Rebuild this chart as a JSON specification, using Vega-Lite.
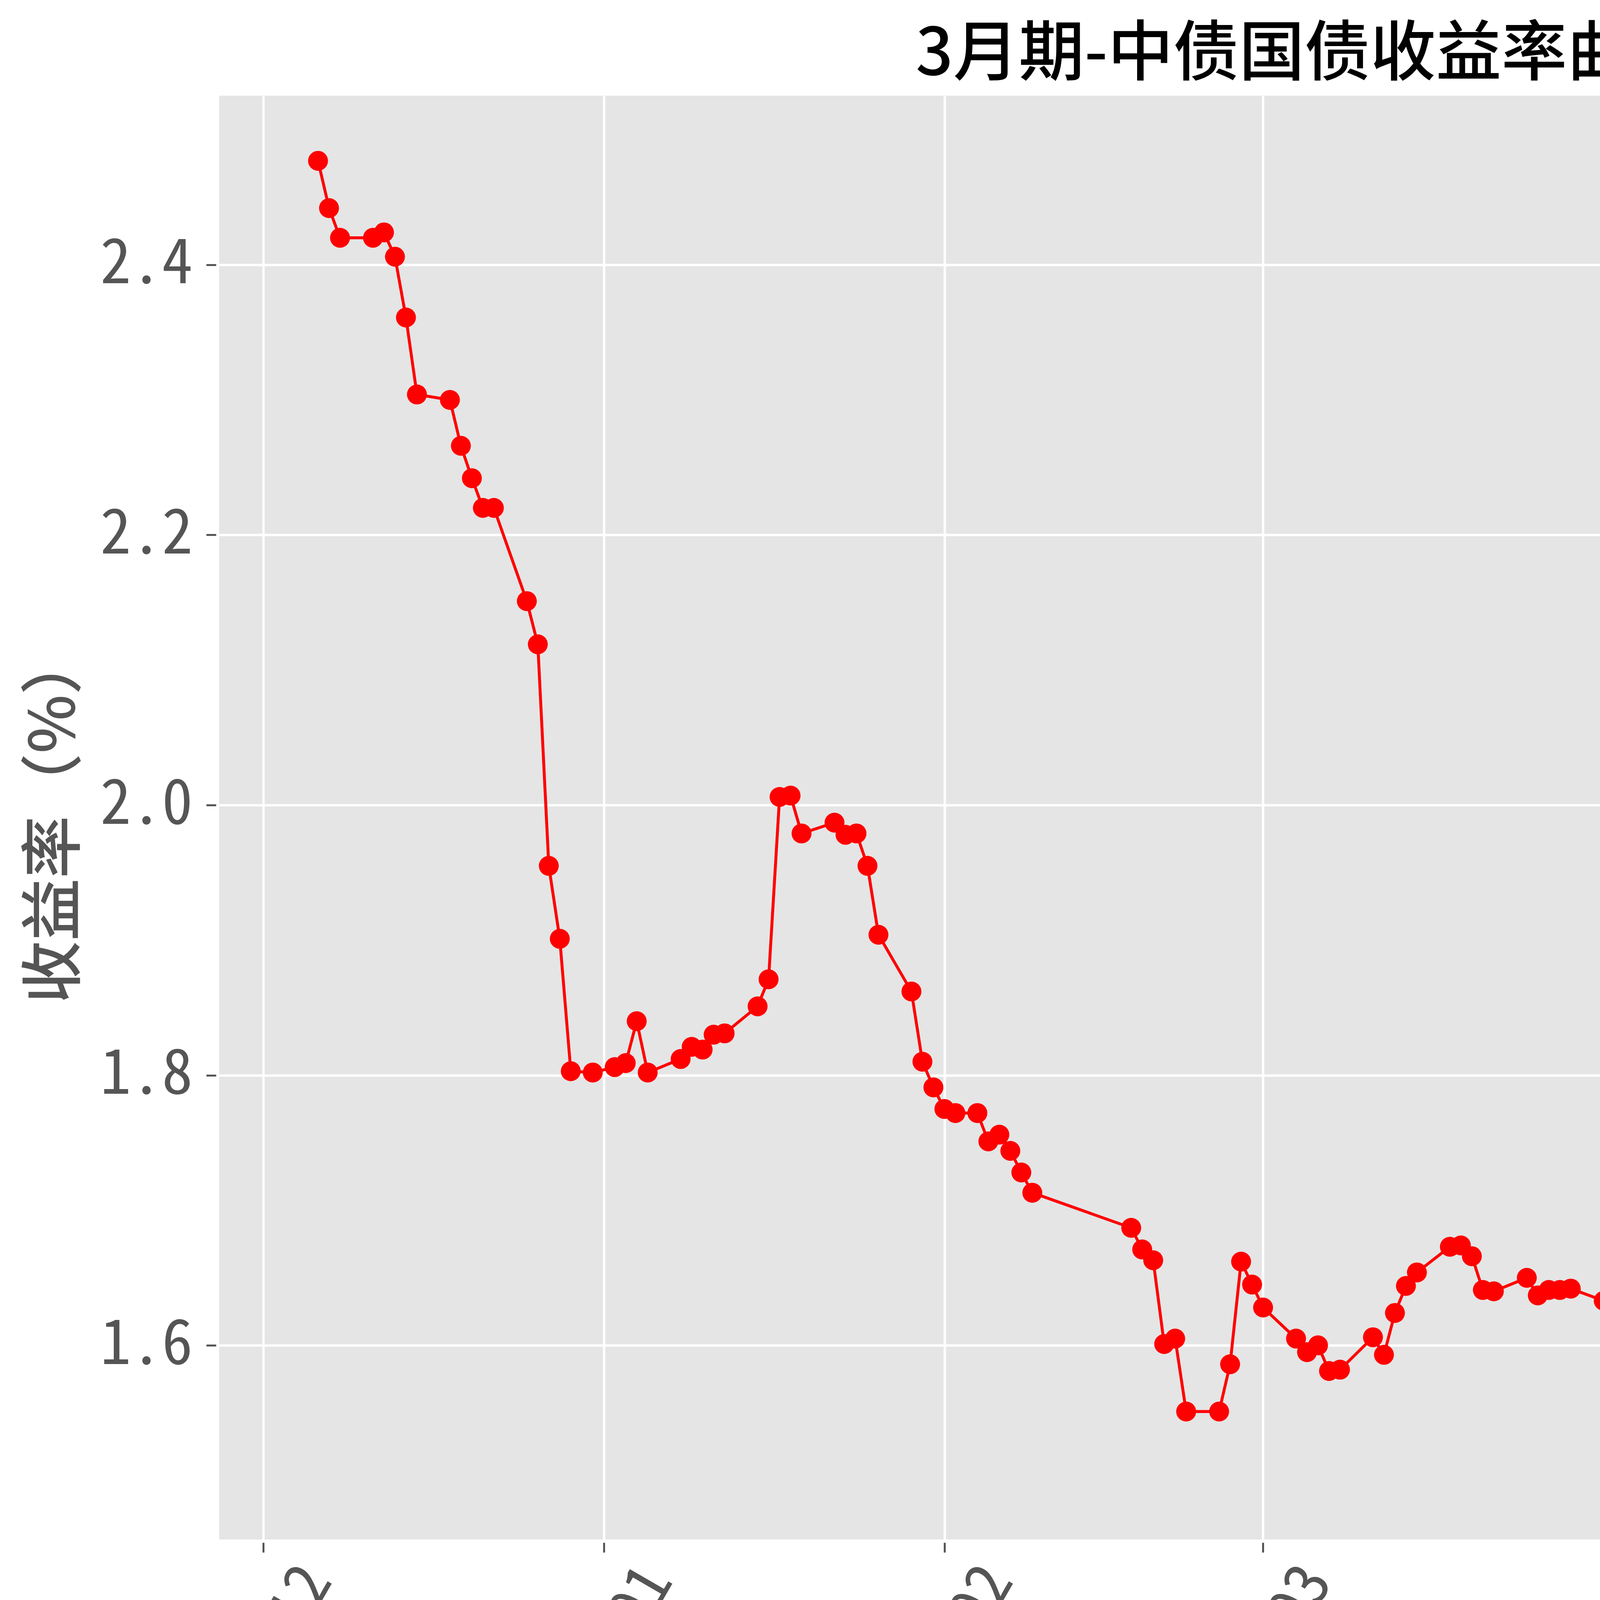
{
  "$schema": "https://vega.github.io/schema/vega-lite/v6.json",
  "width": 5570,
  "height": 3696,
  "autosize": {"type": "none"},
  "padding": {"left": 561, "top": 245, "right": 63, "bottom": 632},
  "background": "white",
  "title": {
    "text": "3月期-中债国债收益率曲线",
    "font": "Noto Sans CJK SC",
    "fontSize": 168,
    "fontWeight": 500,
    "color": "black",
    "anchor": "middle",
    "offset": 18,
    "limit": 0
  },
  "config": {
    "view": {"fill": "#E5E5E5", "stroke": null}
  },
  "data": {
    "values": [
      {"date": "2023-12-06", "yield": 2.477},
      {"date": "2023-12-07", "yield": 2.442},
      {"date": "2023-12-08", "yield": 2.420},
      {"date": "2023-12-11", "yield": 2.420},
      {"date": "2023-12-12", "yield": 2.424},
      {"date": "2023-12-13", "yield": 2.406},
      {"date": "2023-12-14", "yield": 2.361},
      {"date": "2023-12-15", "yield": 2.304},
      {"date": "2023-12-18", "yield": 2.300},
      {"date": "2023-12-19", "yield": 2.266},
      {"date": "2023-12-20", "yield": 2.242},
      {"date": "2023-12-21", "yield": 2.220},
      {"date": "2023-12-22", "yield": 2.220},
      {"date": "2023-12-25", "yield": 2.151},
      {"date": "2023-12-26", "yield": 2.119},
      {"date": "2023-12-27", "yield": 1.955},
      {"date": "2023-12-28", "yield": 1.901},
      {"date": "2023-12-29", "yield": 1.803},
      {"date": "2023-12-31", "yield": 1.802},
      {"date": "2024-01-02", "yield": 1.806},
      {"date": "2024-01-03", "yield": 1.809},
      {"date": "2024-01-04", "yield": 1.840},
      {"date": "2024-01-05", "yield": 1.802},
      {"date": "2024-01-08", "yield": 1.812},
      {"date": "2024-01-09", "yield": 1.821},
      {"date": "2024-01-10", "yield": 1.819},
      {"date": "2024-01-11", "yield": 1.830},
      {"date": "2024-01-12", "yield": 1.831},
      {"date": "2024-01-15", "yield": 1.851},
      {"date": "2024-01-16", "yield": 1.871},
      {"date": "2024-01-17", "yield": 2.006},
      {"date": "2024-01-18", "yield": 2.007},
      {"date": "2024-01-19", "yield": 1.979},
      {"date": "2024-01-22", "yield": 1.987},
      {"date": "2024-01-23", "yield": 1.978},
      {"date": "2024-01-24", "yield": 1.979},
      {"date": "2024-01-25", "yield": 1.955},
      {"date": "2024-01-26", "yield": 1.904},
      {"date": "2024-01-29", "yield": 1.862},
      {"date": "2024-01-30", "yield": 1.810},
      {"date": "2024-01-31", "yield": 1.791},
      {"date": "2024-02-01", "yield": 1.775},
      {"date": "2024-02-02", "yield": 1.772},
      {"date": "2024-02-04", "yield": 1.772},
      {"date": "2024-02-05", "yield": 1.751},
      {"date": "2024-02-06", "yield": 1.756},
      {"date": "2024-02-07", "yield": 1.744},
      {"date": "2024-02-08", "yield": 1.728},
      {"date": "2024-02-09", "yield": 1.713},
      {"date": "2024-02-18", "yield": 1.687},
      {"date": "2024-02-19", "yield": 1.671},
      {"date": "2024-02-20", "yield": 1.663},
      {"date": "2024-02-21", "yield": 1.601},
      {"date": "2024-02-22", "yield": 1.605},
      {"date": "2024-02-23", "yield": 1.551},
      {"date": "2024-02-26", "yield": 1.551},
      {"date": "2024-02-27", "yield": 1.586},
      {"date": "2024-02-28", "yield": 1.662},
      {"date": "2024-02-29", "yield": 1.645},
      {"date": "2024-03-01", "yield": 1.628},
      {"date": "2024-03-04", "yield": 1.605},
      {"date": "2024-03-05", "yield": 1.595},
      {"date": "2024-03-06", "yield": 1.600},
      {"date": "2024-03-07", "yield": 1.581},
      {"date": "2024-03-08", "yield": 1.582},
      {"date": "2024-03-11", "yield": 1.606},
      {"date": "2024-03-12", "yield": 1.593},
      {"date": "2024-03-13", "yield": 1.624},
      {"date": "2024-03-14", "yield": 1.644},
      {"date": "2024-03-15", "yield": 1.654},
      {"date": "2024-03-18", "yield": 1.673},
      {"date": "2024-03-19", "yield": 1.674},
      {"date": "2024-03-20", "yield": 1.666},
      {"date": "2024-03-21", "yield": 1.641},
      {"date": "2024-03-22", "yield": 1.640},
      {"date": "2024-03-25", "yield": 1.650},
      {"date": "2024-03-26", "yield": 1.637},
      {"date": "2024-03-27", "yield": 1.641},
      {"date": "2024-03-28", "yield": 1.641},
      {"date": "2024-03-29", "yield": 1.642},
      {"date": "2024-04-01", "yield": 1.633},
      {"date": "2024-04-02", "yield": 1.620},
      {"date": "2024-04-03", "yield": 1.612},
      {"date": "2024-04-07", "yield": 1.610},
      {"date": "2024-04-08", "yield": 1.589},
      {"date": "2024-04-09", "yield": 1.579},
      {"date": "2024-04-10", "yield": 1.560},
      {"date": "2024-04-11", "yield": 1.550},
      {"date": "2024-04-12", "yield": 1.550},
      {"date": "2024-04-15", "yield": 1.541},
      {"date": "2024-04-16", "yield": 1.541},
      {"date": "2024-04-17", "yield": 1.546},
      {"date": "2024-04-18", "yield": 1.546},
      {"date": "2024-04-19", "yield": 1.553},
      {"date": "2024-04-22", "yield": 1.572},
      {"date": "2024-04-23", "yield": 1.581},
      {"date": "2024-04-24", "yield": 1.623},
      {"date": "2024-04-25", "yield": 1.580},
      {"date": "2024-04-26", "yield": 1.610},
      {"date": "2024-04-28", "yield": 1.622},
      {"date": "2024-04-29", "yield": 1.634},
      {"date": "2024-04-30", "yield": 1.534},
      {"date": "2024-05-06", "yield": 1.649},
      {"date": "2024-05-07", "yield": 1.644},
      {"date": "2024-05-08", "yield": 1.632},
      {"date": "2024-05-09", "yield": 1.620},
      {"date": "2024-05-10", "yield": 1.620},
      {"date": "2024-05-11", "yield": 1.628},
      {"date": "2024-05-13", "yield": 1.582},
      {"date": "2024-05-14", "yield": 1.571},
      {"date": "2024-05-15", "yield": 1.581},
      {"date": "2024-05-16", "yield": 1.570},
      {"date": "2024-05-17", "yield": 1.600},
      {"date": "2024-05-20", "yield": 1.536},
      {"date": "2024-05-21", "yield": 1.532},
      {"date": "2024-05-22", "yield": 1.551},
      {"date": "2024-05-23", "yield": 1.561},
      {"date": "2024-05-24", "yield": 1.561},
      {"date": "2024-05-27", "yield": 1.551},
      {"date": "2024-05-28", "yield": 1.541},
      {"date": "2024-05-29", "yield": 1.563},
      {"date": "2024-05-30", "yield": 1.562},
      {"date": "2024-05-31", "yield": 1.543},
      {"date": "2024-06-03", "yield": 1.505}
    ]
  },
  "encoding": {
    "x": {
      "field": "date",
      "type": "temporal",
      "scale": {
        "type": "utc",
        "domain": [
          {"year": 2023, "month": "nov", "date": 27, "utc": true},
          {"year": 2024, "month": "jun", "date": 12, "utc": true}
        ]
      },
      "axis": {
        "title": null,
        "values": [
          {"year": 2023, "month": "dec", "date": 1, "utc": true},
          {"year": 2024, "month": "jan", "date": 1, "utc": true},
          {"year": 2024, "month": "feb", "date": 1, "utc": true},
          {"year": 2024, "month": "mar", "date": 1, "utc": true},
          {"year": 2024, "month": "apr", "date": 1, "utc": true},
          {"year": 2024, "month": "may", "date": 1, "utc": true},
          {"year": 2024, "month": "jun", "date": 1, "utc": true}
        ],
        "format": "%Y-%m",
        "labelAngle": -60,
        "labelAlign": "center",
        "labelBaseline": "middle",
        "labelPadding": 289,
        "labelFont": "'Noto Sans Mono CJK SC', 'Noto Sans CJK SC', sans-serif",
        "labelFontSize": 158,
        "labelFontWeight": 500,
        "labelColor": "#555555",
        "labelLimit": 0,
        "labelOverlap": false,
        "labelBound": false,
        "labelFlush": false,
        "tickSize": 25,
        "tickWidth": 5,
        "tickColor": "#555555",
        "offset": 8,
        "domain": false,
        "grid": true,
        "gridColor": "white",
        "gridWidth": 6
      }
    },
    "y": {
      "field": "yield",
      "type": "quantitative",
      "scale": {"domain": [1.4563, 2.5252], "nice": false, "zero": false},
      "axis": {
        "title": "收益率（%）",
        "titleFont": "Noto Sans CJK SC",
        "titleFontSize": 160,
        "titleFontWeight": 500,
        "titleColor": "#555555",
        "titleAngle": -90,
        "titleAlign": "center",
        "titleBaseline": "middle",
        "titleX": -411,
        "titleY": 1848,
        "titleLimit": 0,
        "values": [1.6, 1.8, 2.0, 2.2, 2.4],
        "format": ".1f",
        "labelFont": "'Noto Sans Mono CJK SC', 'Noto Sans CJK SC', sans-serif",
        "labelFontSize": 158,
        "labelFontWeight": 500,
        "labelColor": "#555555",
        "labelPadding": 35,
        "labelBaseline": "middle",
        "labelLimit": 0,
        "labelOverlap": false,
        "labelBound": false,
        "labelFlush": false,
        "tickSize": 25,
        "tickWidth": 5,
        "tickColor": "#555555",
        "offset": 8,
        "domain": false,
        "grid": true,
        "gridColor": "white",
        "gridWidth": 6
      }
    }
  },
  "layer": [
    {
      "mark": {"type": "line", "color": "#ff0000", "strokeWidth": 7.5}
    },
    {
      "mark": {"type": "point", "filled": true, "shape": "circle", "size": 2600, "opacity": 1},
      "encoding": {
        "color": {
          "datum": "a",
          "scale": {"range": ["#ff0000"]},
          "legend": {
            "title": null,
            "orient": "top-right",
            "offset": 37,
            "padding": 22,
            "cornerRadius": 14,
            "strokeColor": "#cccccc",
            "fillColor": "#e5e5e5",
            "symbolOpacity": 0,
            "symbolSize": 500,
            "labelFontSize": 1,
            "labelExpr": "''",
            "encode": {"legend": {"update": {"strokeWidth": {"value": 3}}}}
          }
        }
      }
    }
  ]
}
